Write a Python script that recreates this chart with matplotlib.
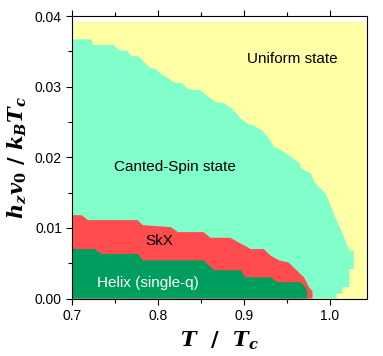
import numpy as np
import matplotlib
matplotlib.use('Agg')
import matplotlib.pyplot as plt
from matplotlib.ticker import MultipleLocator, FormatStrFormatter

plt.rcParams['font.family'] = ['Liberation Sans', 'DejaVu Sans']
# bold italic serif for the axis labels
plt.rcParams['mathtext.fontset'] = 'custom'
plt.rcParams['mathtext.it'] = 'DejaVu Serif:italic:bold'
plt.rcParams['mathtext.rm'] = 'DejaVu Serif:bold'

# phase boundaries (T/Tc, h_z v0/kB Tc)
t_max = 1.043
h_max = 0.0391

cant_T = [0.700, 0.722, 0.724, 0.748, 0.755, 0.764, 0.769, 0.777, 0.790, 0.797,
          0.803, 0.812, 0.818, 0.828, 0.835, 0.849, 0.867, 0.876, 0.886, 0.896,
          0.905, 0.911, 0.921, 0.929, 0.935, 0.943, 0.952, 0.966, 0.966, 0.978,
          0.982, 0.995, 1.001, 1.008, 1.015, 1.023, 1.028, 1.028, 1.023, 1.023,
          1.015, 1.015, 1.008, 1.008]
cant_h = [0.0367, 0.0367, 0.0359, 0.0359, 0.0351, 0.0351, 0.0343, 0.0343, 0.0327, 0.0325,
          0.0318, 0.0312, 0.0306, 0.0305, 0.0296, 0.0295, 0.0278, 0.0277, 0.0269, 0.0255,
          0.0247, 0.0245, 0.0238, 0.0227, 0.0215, 0.0210, 0.0203, 0.0191, 0.0185, 0.0177,
          0.0165, 0.0149, 0.0132, 0.0111, 0.0092, 0.0068, 0.0068, 0.0042, 0.0042, 0.0016,
          0.0016, 0.0007, 0.0007, 0.0]

skx_T = [0.700, 0.711, 0.718, 0.776, 0.782, 0.815, 0.823, 0.853, 0.861, 0.884,
         0.908, 0.923, 0.931, 0.941, 0.952, 0.970, 0.976, 0.980, 0.980]
skx_h = [0.0118, 0.0118, 0.0111, 0.0111, 0.0104, 0.0101, 0.0094, 0.0094, 0.0086, 0.0086,
         0.0070, 0.0070, 0.0061, 0.0054, 0.0051, 0.0030, 0.0016, 0.0010, 0.0]

helix_T = [0.700, 0.726, 0.734, 0.777, 0.782, 0.853, 0.865, 0.896, 0.902, 0.931,
           0.939, 0.966, 0.972, 0.974, 0.974]
helix_h = [0.0070, 0.0070, 0.0063, 0.0063, 0.0054, 0.0054, 0.0040, 0.0040, 0.0030, 0.0030,
           0.0023, 0.0023, 0.0016, 0.0010, 0.0]

labels = ['Uniform state', 'Canted-Spin state', 'SkX', 'Helix (single-q)']
label_pos = [(0.956, 0.0339), (0.820, 0.0186), (0.801, 0.0081), (0.788, 0.0022)]
label_col = ['black', 'black', 'black', 'white']

c_uni = '#FFFFA6'
c_cant = '#80FFCA'
c_skx = '#FF4D4F'
c_helix = '#009E5E'

fig = plt.figure(figsize=(3.83, 3.56), dpi=100)
ax = fig.add_axes([0.189, 0.1615, 0.768, 0.7935])

ax.fill([0.7, t_max + 0.01, t_max + 0.01, 0.7], [0, 0, h_max, h_max], color=c_uni, lw=0)
ax.fill([0.7] + cant_T + [0.7], [0] + cant_h + [0], color=c_cant, lw=0)
ax.fill([0.7] + skx_T + [0.7], [0] + skx_h + [0], color=c_skx, lw=0)
ax.fill([0.7] + helix_T + [0.7], [0] + helix_h + [0], color=c_helix, lw=0)

for txt, (tx, ty), col in zip(labels, label_pos, label_col):
    ax.text(tx, ty, txt, color=col, fontsize=11, ha='center', va='center')

ax.set_xlim(0.7, t_max)
ax.set_ylim(0, 0.04)
ax.xaxis.set_major_locator(MultipleLocator(0.1))
ax.xaxis.set_minor_locator(MultipleLocator(0.05))
ax.yaxis.set_major_locator(MultipleLocator(0.01))
ax.yaxis.set_minor_locator(MultipleLocator(0.005))
ax.xaxis.set_major_formatter(FormatStrFormatter('%.1f'))
ax.yaxis.set_major_formatter(FormatStrFormatter('%.2f'))
ax.tick_params(which='both', direction='out', top=True, right=False, labelsize=10)
ax.tick_params(which='major', length=4, width=0.8)
ax.tick_params(which='minor', length=3, width=0.8)

ax.set_xlabel(r'$T\ \ /\ \ T_c$', fontsize=15, labelpad=5)
ax.set_ylabel(r'$h_z v_0\ /\ k_B T_c$', fontsize=15, labelpad=5)

fig.savefig('out.png', dpi=100)
